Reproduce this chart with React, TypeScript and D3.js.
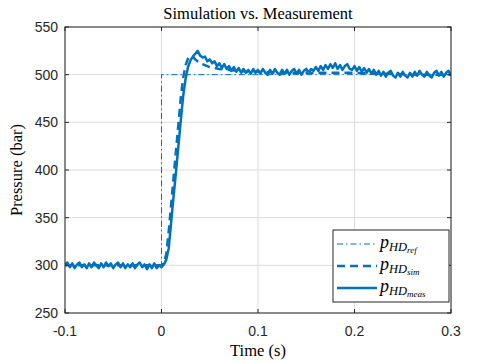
import React from "react";
import * as d3 from "d3";

const W = 498;
const H = 362;
const margin = { left: 65, right: 47, top: 27, bottom: 49 };

const xTicks = [-0.1, 0, 0.1, 0.2, 0.3];
const yTicks = [250, 300, 350, 400, 450, 500, 550];

// reference step
const refTime = [-0.1, 0, 0, 0.3];
const refValues = [300, 300, 500, 500];

// simulated pressure
const simTime = [
  -0.1, 0.0, 0.0025, 0.005, 0.0075, 0.01, 0.0125, 0.015, 0.0175, 0.02, 0.0225,
  0.025, 0.0275, 0.03, 0.0325, 0.035, 0.04, 0.045, 0.05, 0.055, 0.06, 0.07,
  0.08, 0.09, 0.1, 0.12, 0.14, 0.16, 0.18, 0.2, 0.22, 0.24, 0.26, 0.28, 0.3,
];
const simValues = [
  300, 300, 302, 312, 336, 364, 392, 420, 448, 476, 497, 510, 517, 520, 519,
  516, 512, 510, 508, 507, 506, 505, 504, 503, 503, 502, 502, 502, 502, 502,
  501, 501, 500, 500, 500,
];

// measured pressure, sampled every 2.5 ms starting at -0.1 s
const measStart = -0.1;
const measStep = 0.0025;
const measValues = [
  301, 303, 298, 302, 297, 301, 303, 298, 301, 297,
  302, 298, 303, 300, 297, 302, 298, 303, 299, 302,
  297, 301, 303, 298, 302, 297, 301, 298, 302, 297,
  301, 303, 298, 301, 296, 301, 297, 302, 297, 300,
  298, 301, 306, 318, 345, 372, 398, 425, 452, 478,
  496, 508, 515, 519, 522, 525, 520, 518, 519, 514,
  516, 512, 514, 509, 512, 507, 511, 506, 509, 504,
  508, 503, 507, 502, 506, 502, 505, 501, 506, 502,
  505,
  501, 506, 502, 500, 505, 501, 506, 502, 500, 505,
  501, 505, 500, 504, 506, 501, 505, 500, 504, 506,
  502, 506, 504, 508, 504, 509, 505, 510, 506, 511,
  507, 512, 506, 510, 505, 509, 511, 506, 505, 509,
  504, 508, 503, 507, 502, 506, 501, 505, 500, 504,
  499, 503, 498, 502, 504, 499, 497, 502, 498, 503,
  499, 497, 502, 498, 503, 499, 504, 500, 498, 503,
  499, 497, 502, 504, 499, 503, 498, 502, 504, 499,
];

const blue = "#0072BD";
const axisColor = "#262626";
const serif = "'Liberation Serif', 'DejaVu Serif', serif";
const sans = "'Liberation Sans', Arial, sans-serif";

const App: React.FC = () => {
  const x = d3
    .scaleLinear()
    .domain([-0.1, 0.3])
    .range([margin.left, W - margin.right]);
  const y = d3
    .scaleLinear()
    .domain([250, 550])
    .range([H - margin.bottom, margin.top]);

  const line = d3
    .line<[number, number]>()
    .x((d) => x(d[0]))
    .y((d) => y(d[1]));

  const refPath = line(refTime.map((t, i) => [t, refValues[i]]));
  const simPath = line(simTime.map((t, i) => [t, simValues[i]]));
  const measPath = line(
    measValues.map((v, i) => [measStart + i * measStep, v] as [number, number])
  );

  const x0 = x.range()[0];
  const x1 = x.range()[1];
  const y0 = y.range()[0];
  const y1 = y.range()[1];

  const legend = { x: 333, y: 230, w: 116, h: 72 };
  const rows = [
    { sub: "ref", dash: "6,3,1.5,3", width: 1, y: 244 },
    { sub: "sim", dash: "8,5", width: 2.5, y: 266 },
    { sub: "meas", dash: "none", width: 2.5, y: 288 },
  ];

  return (
    <svg
      width={W}
      height={H}
      style={{ position: "absolute", left: 0, top: 0, background: "#fff" }}
    >
      <rect x={0} y={0} width={W} height={H} fill="#fff" />
      {/* grid */}
      {xTicks.map((t) => (
        <line key={"gx" + t} x1={x(t)} x2={x(t)} y1={y1} y2={y0} stroke="#dcdcdc" strokeWidth={1} />
      ))}
      {yTicks.map((t) => (
        <line key={"gy" + t} x1={x0} x2={x1} y1={y(t)} y2={y(t)} stroke="#dcdcdc" strokeWidth={1} />
      ))}

      <defs>
        <clipPath id="plot">
          <rect x={x0} y={y1} width={x1 - x0} height={y0 - y1} />
        </clipPath>
      </defs>
      <g clipPath="url(#plot)" fill="none" strokeLinejoin="round">
        <path d={refPath ?? ""} stroke={blue} strokeWidth={1} strokeDasharray="6,3,1.5,3" />
        <path d={simPath ?? ""} stroke={blue} strokeWidth={2.5} strokeDasharray="8,5" />
        <path d={measPath ?? ""} stroke={blue} strokeWidth={2.5} />
      </g>

      {/* box and ticks */}
      <rect x={x0} y={y1} width={x1 - x0} height={y0 - y1} fill="none" stroke={axisColor} strokeWidth={1} />
      {xTicks.map((t) => (
        <g key={"tx" + t}>
          <line x1={x(t)} x2={x(t)} y1={y0} y2={y0 - 4} stroke={axisColor} />
          <line x1={x(t)} x2={x(t)} y1={y1} y2={y1 + 4} stroke={axisColor} />
          <text x={x(t)} y={336} textAnchor="middle" fontFamily={sans} fontSize={14} fill={axisColor}>
            {t}
          </text>
        </g>
      ))}
      {yTicks.map((t) => (
        <g key={"ty" + t}>
          <line x1={x0} x2={x0 + 4} y1={y(t)} y2={y(t)} stroke={axisColor} />
          <line x1={x1} x2={x1 - 4} y1={y(t)} y2={y(t)} stroke={axisColor} />
          <text x={58} y={y(t)} dy="0.35em" textAnchor="end" fontFamily={sans} fontSize={14} fill={axisColor}>
            {t}
          </text>
        </g>
      ))}

      {/* titles */}
      <text x={(x0 + x1) / 2} y={19} textAnchor="middle" fontFamily={serif} fontSize={16.5} fill="#000">
        Simulation vs. Measurement
      </text>
      <text x={(x0 + x1) / 2} y={356} textAnchor="middle" fontFamily={serif} fontSize={16.5} fill="#000">
        Time (s)
      </text>
      <text
        transform={`translate(22,${(y0 + y1) / 2}) rotate(-90)`}
        textAnchor="middle"
        fontFamily={serif}
        fontSize={16.5}
        fill="#000"
      >
        Pressure (bar)
      </text>

      {/* legend */}
      <rect x={legend.x} y={legend.y} width={legend.w} height={legend.h} fill="#fff" stroke={axisColor} strokeWidth={1} />
      {rows.map((r) => (
        <g key={r.sub}>
          <line
            x1={337}
            x2={377}
            y1={r.y}
            y2={r.y}
            stroke={blue}
            strokeWidth={r.width}
            strokeDasharray={r.dash}
          />
          <text x={380} y={r.y + 4} fontFamily={serif} fontStyle="italic" fill="#000">
            <tspan fontSize={18}>p</tspan>
            <tspan fontSize={12.5} dy={3}>HD</tspan>
            <tspan fontSize={9} dy={2}>{r.sub}</tspan>
          </text>
        </g>
      ))}
    </svg>
  );
};

export default App;
